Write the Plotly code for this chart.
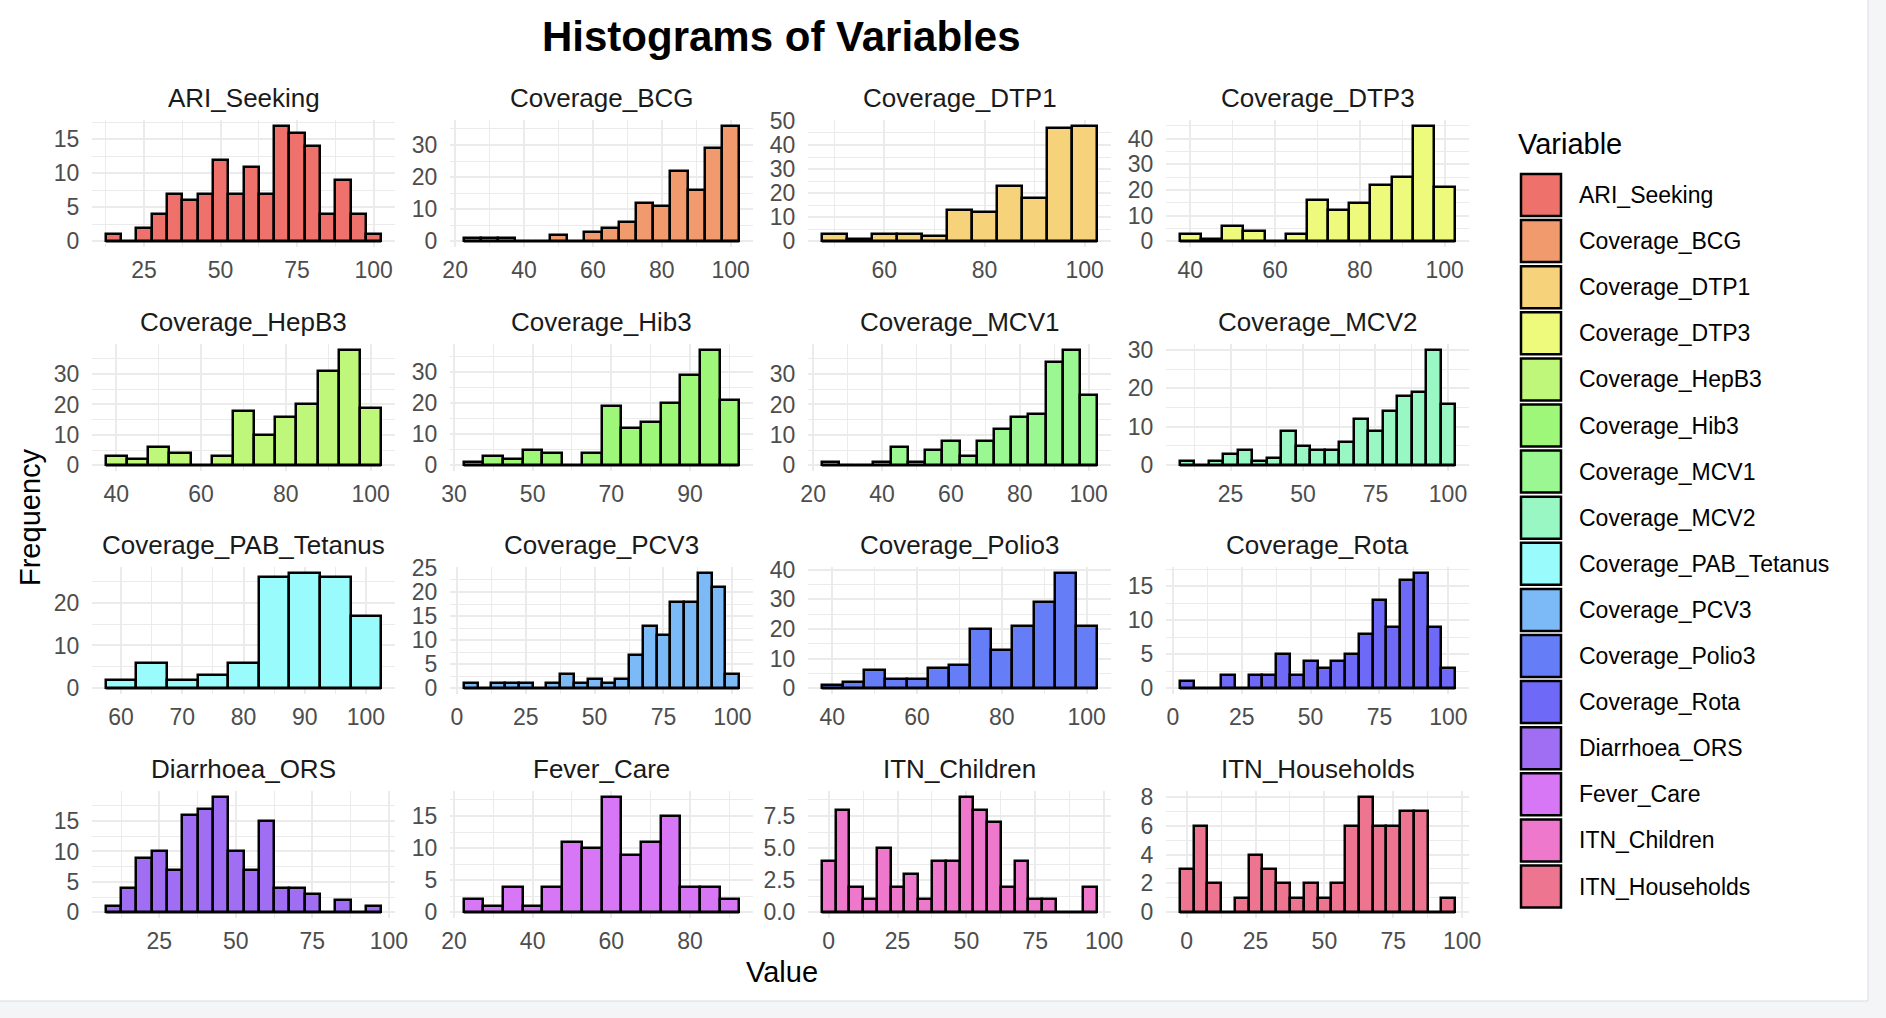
import plotly.graph_objects as go

# variables in facet order
variables = ["ARI_Seeking", "Coverage_BCG", "Coverage_DTP1", "Coverage_DTP3",
             "Coverage_HepB3", "Coverage_Hib3", "Coverage_MCV1", "Coverage_MCV2",
             "Coverage_PAB_Tetanus", "Coverage_PCV3", "Coverage_Polio3", "Coverage_Rota",
             "Diarrhoea_ORS", "Fever_Care", "ITN_Children", "ITN_Households"]

colors = ["#EE716B", "#F09A6E", "#F6D27A", "#EEFA7C", "#BEF77A", "#9FF77A",
          "#9AF792", "#99F7C4", "#99FBFB", "#7CB9F7", "#657EF7", "#6E6AF7",
          "#9F6EF2", "#D877F5", "#EE78CB", "#EE7590"]

# bin counts (binwidth 5)
ari_seeking = [1, 0, 2, 4, 7, 6, 7, 12, 7, 11, 7, 17, 16, 14, 4, 9, 4, 1]
coverage_bcg = [1, 1, 1, 0, 0, 2, 0, 3, 4, 6, 12, 11, 22, 16, 29, 36]
coverage_dtp1 = [3, 1, 3, 3, 2, 13, 12, 23, 18, 47, 48]
coverage_dtp3 = [3, 1, 6, 4, 0, 3, 16, 12, 15, 22, 25, 45, 21]
coverage_hepb3 = [3, 2, 6, 4, 0, 3, 18, 10, 16, 20, 31, 38, 19]
coverage_hib3 = [1, 3, 2, 5, 4, 0, 4, 19, 12, 14, 20, 29, 37, 21]
coverage_mcv1 = [1, 0, 0, 1, 6, 1, 5, 8, 3, 8, 12, 16, 17, 34, 38, 23]
coverage_mcv2 = [1, 0, 1, 3, 4, 1, 2, 9, 5, 4, 4, 6, 12, 9, 14, 18, 19, 30, 16]
coverage_pab_tetanus = [2, 6, 2, 3, 6, 26, 27, 26, 17]
coverage_pcv3 = [1, 0, 1, 1, 1, 0, 1, 3, 1, 2, 1, 2, 7, 13, 11, 18, 18, 24, 21, 3]
coverage_polio3 = [1, 2, 6, 3, 3, 7, 8, 20, 13, 21, 29, 39, 21]
coverage_rota = [1, 0, 0, 2, 0, 2, 2, 5, 2, 4, 3, 4, 5, 8, 13, 9, 16, 17, 9, 3]
diarrhoea_ors = [1, 4, 9, 10, 7, 16, 17, 19, 10, 7, 15, 4, 4, 3, 0, 2, 0, 1]
fever_care = [2, 1, 4, 1, 4, 11, 10, 18, 9, 11, 15, 4, 4, 2]
itn_children = [4, 8, 2, 1, 5, 2, 3, 1, 4, 4, 9, 8, 7, 2, 4, 1, 1, 0, 0, 2]
itn_households = [3, 6, 2, 0, 1, 4, 3, 2, 1, 2, 1, 2, 6, 8, 6, 6, 7, 7, 0, 1]

counts = [ari_seeking, coverage_bcg, coverage_dtp1, coverage_dtp3,
          coverage_hepb3, coverage_hib3, coverage_mcv1, coverage_mcv2,
          coverage_pab_tetanus, coverage_pcv3, coverage_polio3, coverage_rota,
          diarrhoea_ors, fever_care, itn_children, itn_households]

# centre of the first bin and bin width per variable
first_bin = [15, 25, 50, 40, 40, 35, 25, 10, 60, 5, 40, 5, 10, 25, 0, 0]
bin_width = [5, 5, 5, 5, 5, 5, 5, 5, 5, 5, 5, 5, 5, 5, 5, 5]

# axis breaks per panel
x_tick0 = [0, 0, 0, 0, 0, 10, 0, 0, 0, 0, 0, 0, 0, 0, 0, 0]
x_dtick = [25, 20, 20, 20, 20, 20, 20, 25, 10, 25, 20, 25, 25, 20, 25, 25]
y_dtick = [5, 10, 10, 10, 10, 10, 10, 10, 10, 5, 10, 5, 5, 5, 2.5, 2]

W, H = 1886, 1018
FONT = "Liberation Sans, Arial, sans-serif"
GRID = "#EBEBEB"
OUTLINE = 2.5

col_left = [92, 450, 808, 1166]
row_top = [120, 344, 567, 791]
panel_w = 303
panel_h = 127


def px(x):
    return x / W


def py(y):
    return 1 - y / H


fig = go.Figure()
annotations = []
shapes = []

# window background
shapes.append(dict(type="rect", xref="paper", yref="paper", x0=px(-2), x1=px(1868),
                   y0=py(1001), y1=py(-2), fillcolor="white",
                   line=dict(color="#D9DBDF", width=1), layer="below"))

for i, name in enumerate(variables):
    r, c = divmod(i, 4)
    n = "" if i == 0 else str(i + 1)
    w = bin_width[i]
    vals = counts[i]

    fig.add_trace(go.Bar(x0=first_bin[i], dx=w, y=vals, width=w,
                         marker=dict(color=colors[i], line=dict(color="black", width=OUTLINE)),
                         xaxis="x" + n, yaxis="y" + n, showlegend=False,
                         hovertemplate=name + "<br>%{x}: %{y}<extra></extra>"))

    lo = first_bin[i] - w / 2
    hi = first_bin[i] + (len(vals) - 0.5) * w
    pad = 0.05 * (hi - lo)
    ymax = max(vals)

    # empty bins still show their outline along zero, as in ggplot
    shapes.append(dict(type="line", xref="x" + n, yref="y" + n, x0=lo, x1=hi, y0=0, y1=0,
                       line=dict(color="black", width=OUTLINE), layer="above"))

    x0 = col_left[c]
    y0 = row_top[r]
    fig.layout["xaxis" + n] = dict(
        domain=[px(x0), px(x0 + panel_w)], anchor="y" + n,
        range=[lo - pad, hi + pad], tick0=x_tick0[i], dtick=x_dtick[i],
        showgrid=True, gridcolor=GRID, gridwidth=2,
        minor=dict(tick0=x_tick0[i], dtick=x_dtick[i] / 2, showgrid=True,
                   gridcolor=GRID, gridwidth=1),
        ticks="outside", ticklen=2, tickcolor="rgba(0,0,0,0)",
        tickfont=dict(size=23, color="#4D4D4D"), zeroline=False, showline=False,
        automargin=False, fixedrange=True)
    fig.layout["yaxis" + n] = dict(
        domain=[py(y0 + panel_h), py(y0)], anchor="x" + n,
        range=[-0.05 * ymax, 1.05 * ymax], tick0=0, dtick=y_dtick[i],
        tickformat=".1f" if y_dtick[i] == 2.5 else None,
        showgrid=True, gridcolor=GRID, gridwidth=2,
        minor=dict(tick0=0, dtick=y_dtick[i] / 2, showgrid=True,
                   gridcolor=GRID, gridwidth=1),
        ticks="outside", ticklen=7, tickcolor="rgba(0,0,0,0)",
        tickfont=dict(size=23, color="#4D4D4D"), zeroline=False, showline=False,
        automargin=False, fixedrange=True)

    # facet strip title
    annotations.append(dict(text=name, xref="paper", yref="paper",
                            x=px(x0 + panel_w / 2), y=py(y0 - 22), showarrow=False,
                            xanchor="center", yanchor="middle",
                            font=dict(size=26, color="#1A1A1A")))

# legend drawn by hand to get the ggplot key boxes
annotations.append(dict(text="Variable", xref="paper", yref="paper", x=px(1516), y=py(144),
                        showarrow=False, xanchor="left", yanchor="middle",
                        font=dict(size=29, color="black")))
for i, name in enumerate(variables):
    cy = 195 + i * 46.1
    shapes.append(dict(type="rect", xref="paper", yref="paper",
                       x0=px(1521), x1=px(1561), y0=py(cy + 21), y1=py(cy - 21),
                       fillcolor=colors[i], line=dict(color="black", width=OUTLINE)))
    annotations.append(dict(text=name, xref="paper", yref="paper", x=px(1577), y=py(cy),
                            showarrow=False, xanchor="left", yanchor="middle",
                            font=dict(size=23, color="black")))

# titles
annotations.append(dict(text="<b>Histograms of Variables</b>", xref="paper", yref="paper",
                        x=px(781), y=py(36), showarrow=False, xanchor="center",
                        yanchor="middle", font=dict(size=42, color="black")))
annotations.append(dict(text="Value", xref="paper", yref="paper", x=px(782), y=py(972),
                        showarrow=False, xanchor="center", yanchor="middle",
                        font=dict(size=29, color="black")))
annotations.append(dict(text="Frequency", xref="paper", yref="paper", x=px(30), y=py(517),
                        showarrow=False, textangle=-90, xanchor="center", yanchor="middle",
                        font=dict(size=29, color="black")))

fig.update_layout(width=W, height=H, autosize=False,
                  margin=dict(l=0, r=0, t=0, b=0, pad=0),
                  paper_bgcolor="#F4F5F7", plot_bgcolor="rgba(0,0,0,0)",
                  font=dict(family=FONT), bargap=0,
                  annotations=annotations, shapes=shapes, showlegend=False)

# drop the browser's default body margin so the figure sits at the window corner
fig.write_html("out.html", config={"displayModeBar": False},
               post_script="document.body.style.margin='0';")
